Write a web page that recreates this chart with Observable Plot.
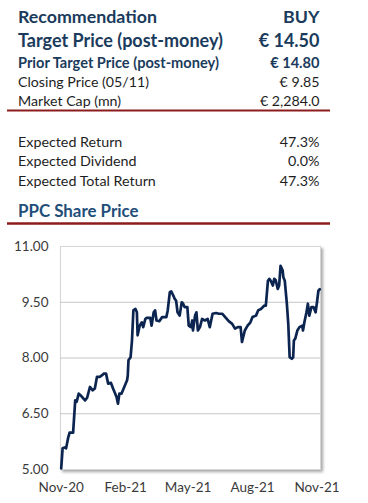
<!DOCTYPE html>
<html><head><meta charset="utf-8">
<script src="https://cdn.jsdelivr.net/npm/d3@7"></script>
<script src="https://cdn.jsdelivr.net/npm/@observablehq/plot@0.6"></script>
<style>
html,body{margin:0;padding:0;background:#fff;width:368px;height:503px;overflow:hidden;}
#wrap{position:relative;width:368px;height:503px;font-family:Lato,"Open Sans",sans-serif;}
#head{position:absolute;left:0;top:0;}
#chart{position:absolute;left:0;top:230px;}
</style></head><body><div id="wrap"><svg id="head" width="368" height="230"></svg><div id="chart"></div></div>
<script>
const headerLabels = ["Recommendation","Target Price (post-money)","Prior Target Price (post-money)","Closing Price (05/11)","Market Cap (mn)"];
const headerValues = ["BUY","€ 14.50","€ 14.80","€ 9.85","€ 2,284.0"];
const returnLabels = ["Expected Return","Expected Dividend","Expected Total Return"];
const returnValues = ["47.3%","0.0%","47.3%"];
const sectionTitle = "PPC Share Price";

const dates = ["2020-11-01","2020-11-03","2020-11-07","2020-11-08","2020-11-11","2020-11-13","2020-11-18","2020-11-21","2020-11-23","2020-11-26","2020-11-30","2020-12-05","2020-12-08","2020-12-12","2020-12-16","2020-12-19","2020-12-22","2020-12-26","2020-12-29","2021-01-01","2021-01-04","2021-01-07","2021-01-11","2021-01-14","2021-01-19","2021-01-21","2021-01-23","2021-01-26","2021-01-30","2021-02-03","2021-02-04","2021-02-05","2021-02-08","2021-02-10","2021-02-12","2021-02-15","2021-02-17","2021-02-18","2021-02-21","2021-02-24","2021-02-26","2021-03-01","2021-03-03","2021-03-08","2021-03-10","2021-03-13","2021-03-15","2021-03-17","2021-03-21","2021-03-25","2021-03-31","2021-04-02","2021-04-05","2021-04-07","2021-04-10","2021-04-12","2021-04-14","2021-04-16","2021-04-19","2021-04-22","2021-04-24","2021-04-26","2021-04-30","2021-05-02","2021-05-05","2021-05-07","2021-05-08","2021-05-11","2021-05-13","2021-05-15","2021-05-18","2021-05-21","2021-05-25","2021-05-29","2021-06-01","2021-06-05","2021-06-10","2021-06-14","2021-06-19","2021-06-24","2021-06-28","2021-07-03","2021-07-07","2021-07-11","2021-07-15","2021-07-17","2021-07-21","2021-07-25","2021-07-29","2021-08-01","2021-08-06","2021-08-09","2021-08-13","2021-08-18","2021-08-20","2021-08-23","2021-08-25","2021-08-27","2021-08-30","2021-09-01","2021-09-03","2021-09-06","2021-09-08","2021-09-10","2021-09-13","2021-09-14","2021-09-16","2021-09-19","2021-09-21","2021-09-23","2021-09-26","2021-09-28","2021-09-29","2021-10-01","2021-10-04","2021-10-07","2021-10-11","2021-10-12","2021-10-14","2021-10-17","2021-10-19","2021-10-21","2021-10-24","2021-10-27","2021-10-30","2021-11-01","2021-11-03","2021-11-05"];
const prices = [5.03,5.57,5.60,5.57,5.86,5.99,5.99,6.86,6.82,7.04,6.97,6.86,6.93,7.22,7.13,7.18,7.49,7.49,7.53,7.58,7.58,7.31,7.33,7.18,6.95,6.77,7.04,7.04,7.22,7.40,7.53,7.94,8.02,8.47,9.28,9.32,9.23,8.61,8.87,8.96,8.83,9.05,9.08,9.08,8.87,9.23,9.28,9.01,8.99,9.10,9.10,9.28,9.77,9.79,9.68,9.59,9.54,9.23,9.14,9.50,9.46,9.37,9.37,8.87,8.83,9.01,8.74,9.14,9.23,8.74,8.83,9.05,9.01,9.05,8.83,9.19,9.21,9.19,9.19,9.08,8.99,8.92,8.79,8.83,8.83,8.43,8.74,8.87,8.96,9.10,9.14,9.28,9.32,9.41,9.41,10.08,10.13,10.08,9.95,10.13,10.10,9.86,9.95,10.48,10.35,10.17,10.08,9.46,8.92,8.02,7.98,8.02,8.47,8.52,8.74,8.83,8.87,8.74,8.96,9.23,9.46,9.14,9.37,9.37,9.23,9.50,9.81,9.85];

const yTicks = [5, 6.5, 8, 9.5, 11];
const yGrid = [6.5, 8, 9.5];
const xTickDates = ["2020-11-01","2021-02-01","2021-05-01","2021-08-01","2021-11-01"];
const xTickLabels = ["Nov-20","Feb-21","May-21","Aug-21","Nov-21"];

// ---- header ----
const navy = "#1b3b5c", blue = "#1f4e79", ink = "#1e1e1e", red = "#8c1c1c";
const head = d3.select("#head");
const rowStyle = [
  {size:17.8, weight:700, color:navy, y:23},
  {size:18, weight:700, color:navy, y:46.5},
  {size:14.6, weight:700, color:navy, y:67.5},
  {size:14.2, weight:400, color:ink, y:87},
  {size:14.2, weight:400, color:ink, y:106}
];
headerLabels.forEach((t,i)=>{
  const s = rowStyle[i];
  head.append("text").attr("x",18).attr("y",s.y).attr("font-size",s.size).attr("font-weight",s.weight).attr("fill",s.color).text(t);
  head.append("text").attr("x",319.5).attr("y",s.y).attr("text-anchor","end").attr("font-size",s.size).attr("font-weight",s.weight).attr("fill",s.color).text(headerValues[i]);
});
head.append("line").attr("x1",7).attr("x2",330).attr("y1",110.5).attr("y2",110.5).attr("stroke",red).attr("stroke-width",2);
const retY = [147, 166.3, 185.5];
returnLabels.forEach((t,i)=>{
  head.append("text").attr("x",18).attr("y",retY[i]).attr("font-size",14.3).attr("fill",ink).text(t);
  head.append("text").attr("x",319.5).attr("y",retY[i]).attr("text-anchor","end").attr("font-size",14.3).attr("fill",ink).text(returnValues[i]);
});
head.append("text").attr("x",18).attr("y",216.5).attr("font-size",16.9).attr("font-weight",700).attr("fill",blue).text(sectionTitle);
head.append("line").attr("x1",7).attr("x2",330).attr("y1",223.5).attr("y2",223.5).attr("stroke",red).attr("stroke-width",2.5);

// ---- chart ----
const data = dates.map((d,i)=>({date:new Date(d), price:prices[i]}));
const fmt = d3.utcFormat("%b-%y");
const plot = Plot.plot({
  width:368, height:273, marginTop:16, marginBottom:34, marginLeft:60, marginRight:48,
  style:{fontFamily:"Lato, 'Open Sans', sans-serif", fontSize:"13.5px", color:"#3b3b3b", background:"transparent", overflow:"visible"},
  x:{type:"utc", domain:[new Date("2020-10-31"), new Date("2021-11-06")], ticks:xTickDates.map(d=>new Date(d)), tickFormat:d=>xTickLabels[xTickDates.indexOf(d3.utcFormat("%Y-%m-%d")(d))] ?? fmt(d), tickSize:0, tickPadding:13, label:null},
  y:{domain:[5,11], ticks:yTicks, tickFormat:d=>d.toFixed(2), tickSize:0, tickPadding:12, label:null},
  marks:[
    Plot.frame({fill:"#fff", stroke:"#d6d6d6"}),
    Plot.ruleY(yGrid, {stroke:"#c4c4c4", strokeWidth:1}),
    Plot.line(data,{x:"date", y:"price", stroke:"#0c2550", strokeWidth:2.7, strokeLinejoin:"round"})
  ]
});
d3.select(plot).select("[aria-label=frame]").style("filter","drop-shadow(2.5px 2.5px 1.5px rgba(0,0,0,0.35))");
document.getElementById("chart").appendChild(plot);
</script></body></html>
